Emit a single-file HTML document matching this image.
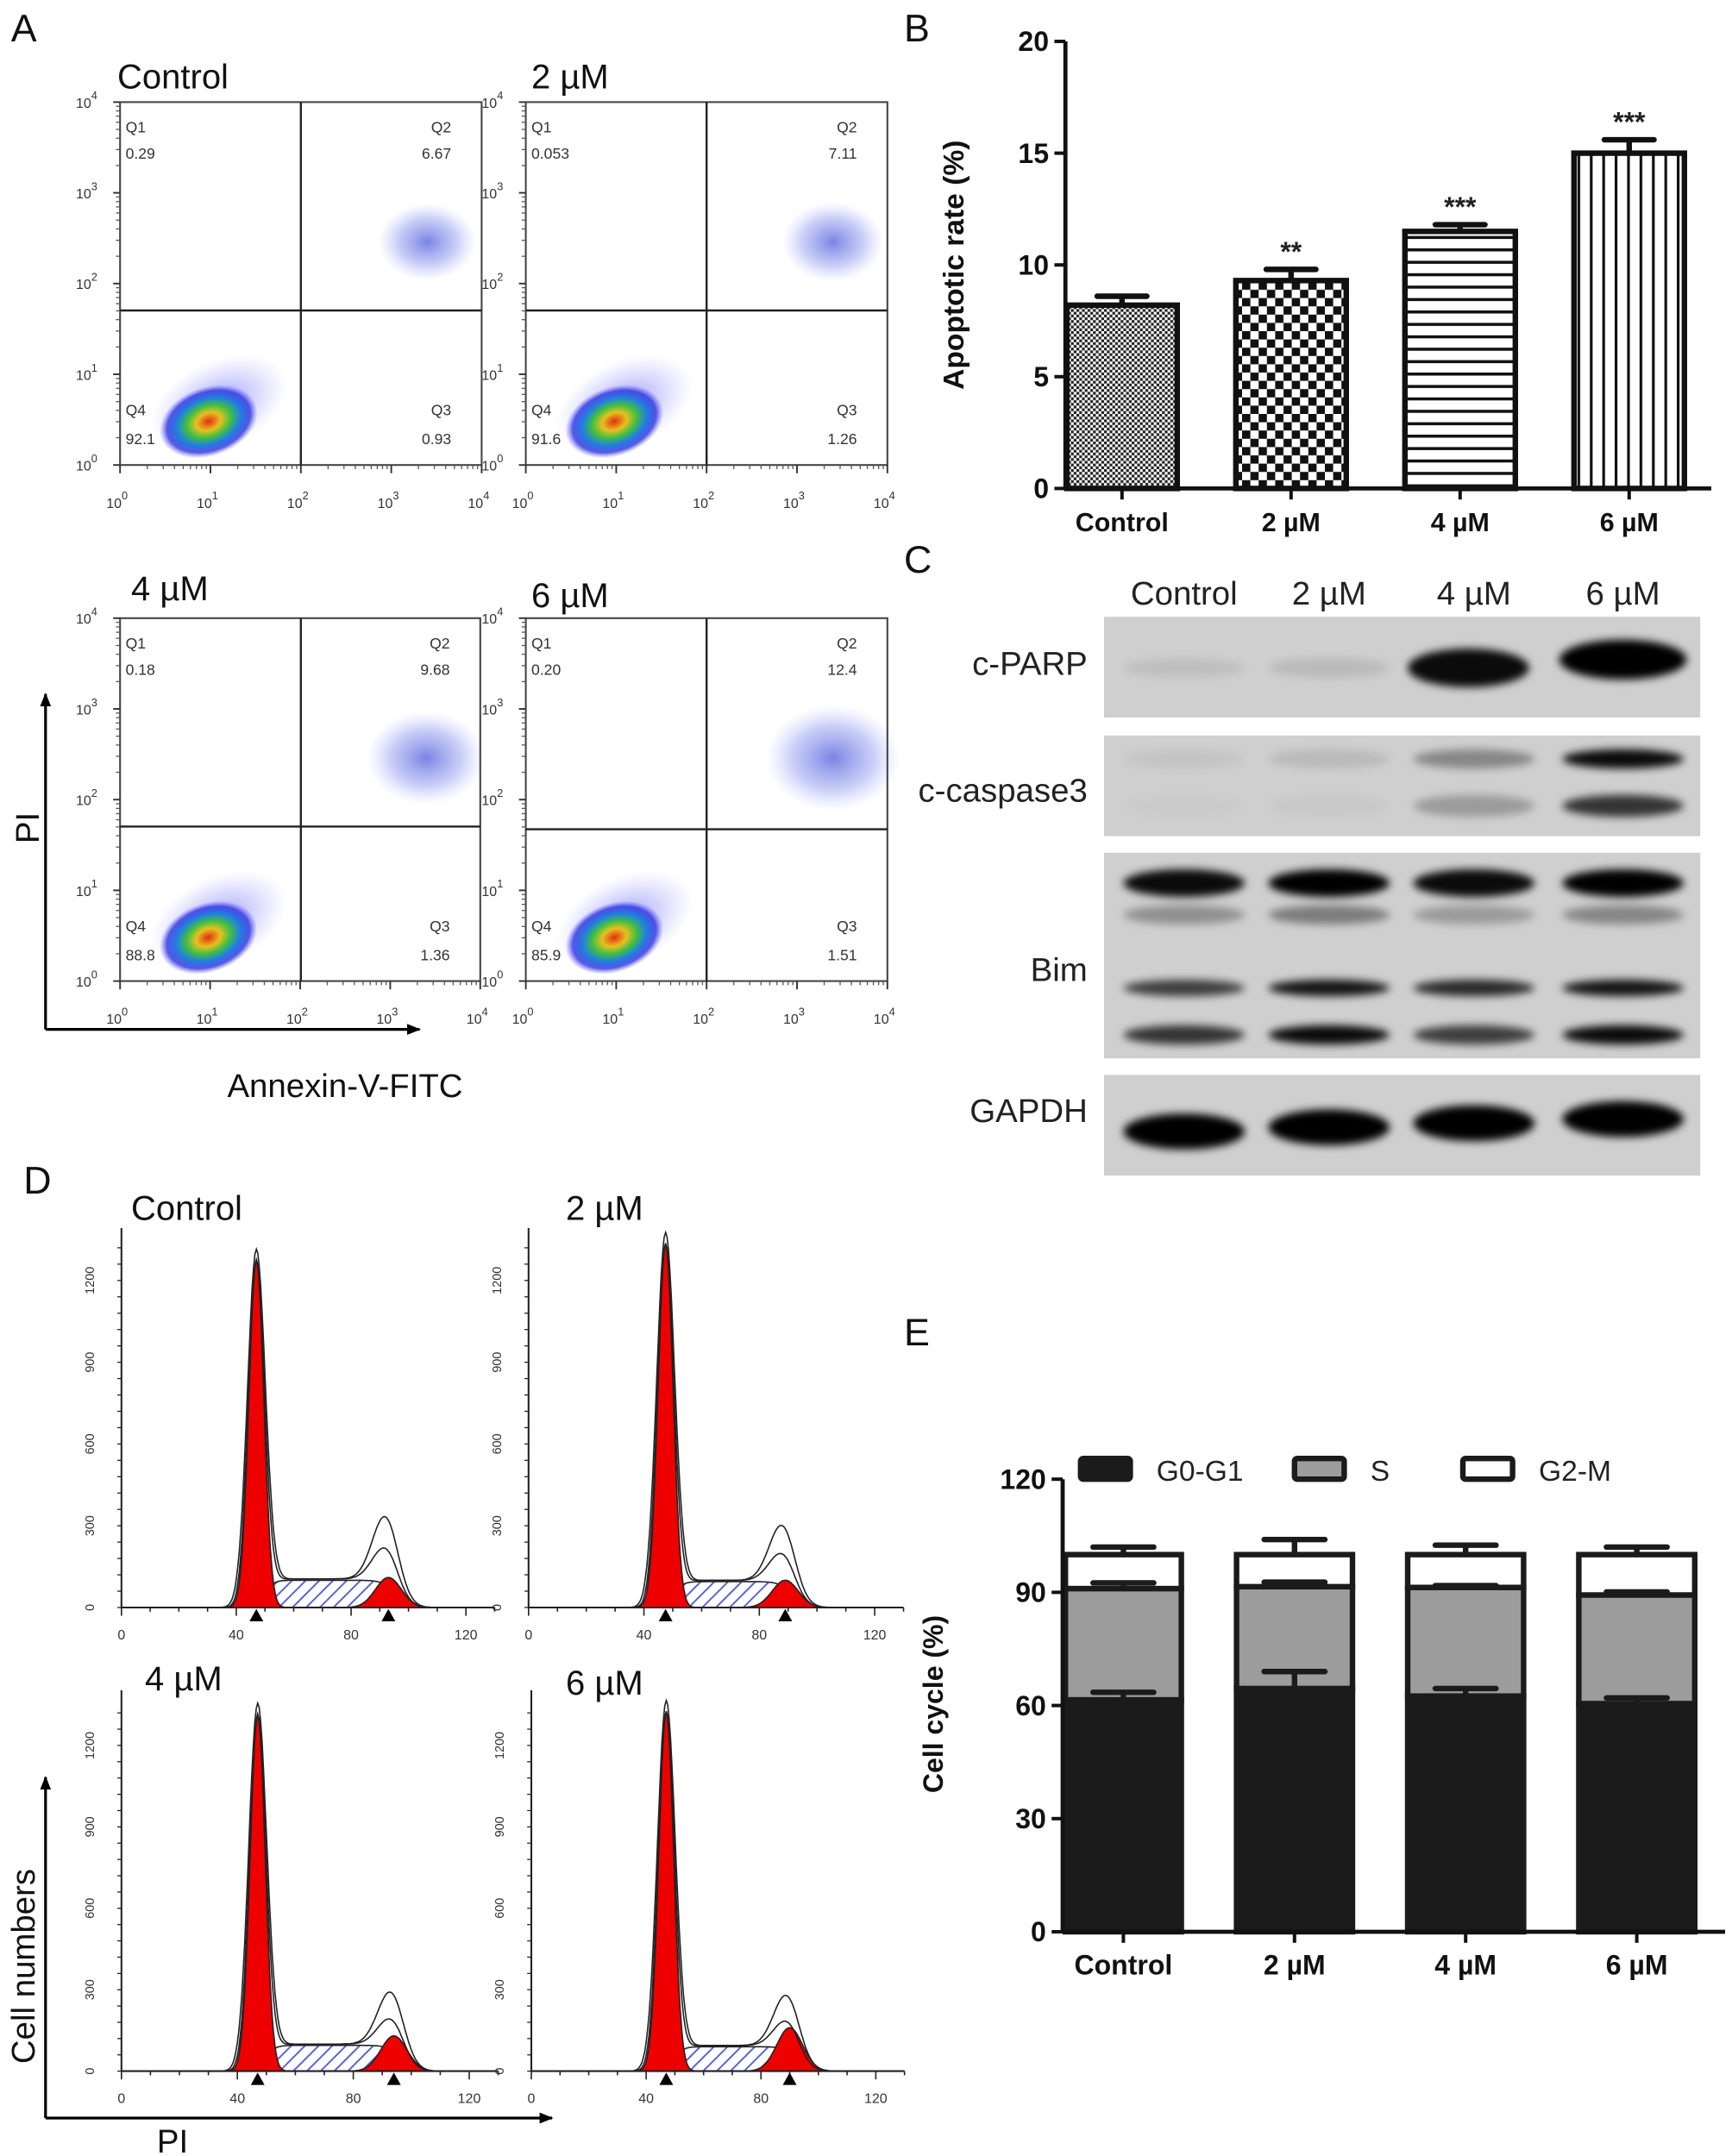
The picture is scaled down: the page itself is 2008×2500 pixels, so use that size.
<!DOCTYPE html>
<html><head><meta charset="utf-8">
<style>
html,body{margin:0;padding:0;background:#fff;}
svg{display:block;font-family:"Liberation Sans",sans-serif;}
</style></head>
<body>
<svg id="fig" xmlns="http://www.w3.org/2000/svg" width="2008" height="2500" viewBox="0 0 1255 1562.5">
<defs>
<pattern id="pCtrl" width="4" height="4" patternUnits="userSpaceOnUse"><rect width="4" height="4" fill="#fff"/><rect width="2" height="2" fill="#222"/><rect x="2" y="2" width="2" height="2" fill="#222"/></pattern>
<pattern id="p2" width="12" height="12" patternUnits="userSpaceOnUse"><rect width="12" height="12" fill="#fff"/><rect width="6" height="6" fill="#111"/><rect x="6" y="6" width="6" height="6" fill="#111"/></pattern>
<pattern id="p4" width="10" height="9" patternUnits="userSpaceOnUse"><rect width="10" height="9" fill="#fff"/><rect y="0" width="10" height="2.2" fill="#111"/></pattern>
<pattern id="p6" width="9" height="10" patternUnits="userSpaceOnUse"><rect width="9" height="10" fill="#fff"/><rect x="0" width="2" height="10" fill="#111"/></pattern>
<pattern id="hatch" width="7" height="7" patternUnits="userSpaceOnUse" patternTransform="rotate(45)"><rect width="7" height="7" fill="#fff"/><rect width="1.2" height="7" fill="#5560d8"/></pattern>
<radialGradient id="heat"><stop offset="0" stop-color="#e03010"/><stop offset="0.25" stop-color="#e8c020"/><stop offset="0.45" stop-color="#40c040"/><stop offset="0.65" stop-color="#2080e0"/><stop offset="0.85" stop-color="#3030e0" stop-opacity="0.8"/><stop offset="1" stop-color="#6060ff" stop-opacity="0"/></radialGradient>
<radialGradient id="halo"><stop offset="0" stop-color="#4040f0" stop-opacity="0.55"/><stop offset="1" stop-color="#8080ff" stop-opacity="0"/></radialGradient>
<radialGradient id="q2g"><stop offset="0" stop-color="#2030d0" stop-opacity="0.85"/><stop offset="0.6" stop-color="#4050e0" stop-opacity="0.4"/><stop offset="1" stop-color="#8090ff" stop-opacity="0"/></radialGradient>
<filter id="blur" x="-30%" y="-100%" width="160%" height="300%"><feGaussianBlur stdDeviation="3"/></filter>
<marker id="arr" markerUnits="userSpaceOnUse" markerWidth="10" markerHeight="10" refX="9" refY="5" orient="auto"><path d="M0,1 L10,5 L0,9 z" fill="#000"/></marker>
</defs>
</svg>
<script>
// ---------- data ----------
const groups = ["Control","2 µM","4 µM","6 µM"];
const apopValues = [8.2, 9.3, 11.5, 15.0];
const apopErr = [0.4, 0.5, 0.3, 0.6];
const apopStars = ["", "**", "***", "***"];
const apopTicks = [0,5,10,15,20];
const q1Vals = ["0.29","0.053","0.18","0.20"];
const q2Vals = ["6.67","7.11","9.68","12.4"];
const q3Vals = ["0.93","1.26","1.36","1.51"];
const q4Vals = ["92.1","91.6","88.8","85.9"];
const g01Values = [61.5, 64.5, 62.5, 60.5];
const sValues = [29.5, 27.0, 28.8, 28.8];
const g2mValues = [9.0, 8.5, 8.7, 10.7];
const g01Err = [2.0, 4.5, 2.0, 1.5];
const sErr = [1.5, 1.2, 0.5, 0.8];
const g2mErr = [2.0, 4.0, 2.5, 2.0];
const cycleTicks = [0,30,60,90,120];
const g1Pos = [47, 47.5, 47, 47];
const g1Height = [1270, 1330, 1310, 1320];
const g2Pos = [93, 89, 94, 90];
const g2Height = [110, 100, 130, 160];
const rawG2Height = [290, 260, 250, 240];
const sHeight = [100, 95, 95, 90];
const bandParp = [0.08, 0.1, 0.95, 1.0];
const bandCasA = [0.05, 0.1, 0.35, 0.95];
const bandCasB = [0.02, 0.03, 0.25, 0.75];
const bandBim1 = [0.95, 1.0, 0.95, 1.0];
const bandBim2 = [0.3, 0.4, 0.25, 0.35];
const bandBim3 = [0.7, 0.9, 0.8, 0.9];
const bandBim4 = [0.75, 0.95, 0.7, 0.95];
const bandGapdh = [1.0, 1.0, 1.0, 1.0];

const NS = "http://www.w3.org/2000/svg";
const svg = document.getElementById('fig');
function mk(tag, attrs, parent, txt){
  const e = document.createElementNS(NS, tag);
  for (const k in attrs) e.setAttribute(k, attrs[k]);
  if (txt !== undefined) e.textContent = txt;
  (parent || svg).appendChild(e);
  return e;
}
function grp(name){
  const g = mk('g', {});
  
  
  return g;
}
function label(p, x, y, t, size, opts){
  const a = Object.assign({x:x, y:y, 'font-size':size, fill:'#111'}, opts||{});
  const e = mk('text', a, p, t);
  
  
  return e;
}

// panel letters
const letters = grp('panel-letters');
[["A",8,30],["B",655,30],["C",655,415],["D",17,865],["E",655,975]].forEach(l=>{
  const e = label(letters, l[1], l[2], l[0], 28);
  
});

// ---------- Panel A: flow scatter ----------
const scatterBoxes = [
  {x0:87,x1:349,y0:74,y1:337,vx:218,hy:225,title:[85,64]},
  {x0:381,x1:643,y0:74,y1:337,vx:512,hy:225,title:[385,64]},
  {x0:87,x1:348,y0:448,y1:711,vx:218,hy:599,title:[95,435]},
  {x0:381,x1:643,y0:448,y1:711,vx:512,hy:601,title:[385,440]}
];
scatterBoxes.forEach((b,i)=>{
  const g = grp('annexin-scatter-'+i);
  label(g, b.title[0], b.title[1], groups[i], 25);
  const w=b.x1-b.x0, h=b.y1-b.y0;
  const cx = b.x0 + w*0.245, cy = b.y0 + h*0.88;
  let e = mk('ellipse',{cx:cx+12,cy:cy-8,rx:w*0.2,ry:h*0.12,fill:'url(#halo)',transform:`rotate(-25 ${cx} ${cy})`},g);
   
  e = mk('ellipse',{cx:cx,cy:cy,rx:w*0.14,ry:h*0.095,fill:'url(#heat)',transform:`rotate(-20 ${cx} ${cy})`},g);
   
  const q2x = b.x0 + w*0.88, q2y = b.y0 + h*0.37;
  const sc = parseFloat(q2Vals[i])/7;
  e = mk('ellipse',{cx:q2x-8,cy:q2y+4,rx:w*0.14*Math.sqrt(sc),ry:h*0.11*Math.sqrt(sc),fill:'url(#q2g)',opacity:0.7},g);
   
  mk('rect',{x:b.x0,y:b.y0,width:w,height:h,fill:'none',stroke:'#444','stroke-width':1.3},g);
  mk('line',{x1:b.vx,y1:b.y0,x2:b.vx,y2:b.y1,stroke:'#222','stroke-width':1.5},g);
  mk('line',{x1:b.x0,y1:b.hy,x2:b.x1,y2:b.hy,stroke:'#222','stroke-width':1.5},g);
  const f=11;
  label(g,b.x0+4,b.y0+22,'Q1',f,{fill:'#333'}); label(g,b.x0+4,b.y0+41,q1Vals[i],f,{fill:'#333'});
  label(g,b.x1-22,b.y0+22,'Q2',f,{fill:'#333','text-anchor':'end'}); label(g,b.x1-22,b.y0+41,q2Vals[i],f,{fill:'#333','text-anchor':'end'});
  label(g,b.x0+4,b.y1-36,'Q4',f,{fill:'#333'}); label(g,b.x0+4,b.y1-15,q4Vals[i],f,{fill:'#333'});
  label(g,b.x1-22,b.y1-36,'Q3',f,{fill:'#333','text-anchor':'end'}); label(g,b.x1-22,b.y1-15,q3Vals[i],f,{fill:'#333','text-anchor':'end'});
  for(let d=0; d<=4; d++){
    const x = b.x0 + w*d/4;
    mk('line',{x1:x,y1:b.y1,x2:x,y2:b.y1+6,stroke:'#333','stroke-width':1.2},g);
    for(let m=2;m<10 && d<4;m++){const xm=x+w/4*Math.log10(m); mk('line',{x1:xm,y1:b.y1,x2:xm,y2:b.y1+3,stroke:'#555','stroke-width':0.8},g);}
    const t = label(g, x-10, b.y1+31, '10', 10, {fill:'#333'});
    mk('tspan',{dy:-6,'font-size':8},t,String(d));
    const y = b.y1 - h*d/4;
    mk('line',{x1:b.x0-5,y1:y,x2:b.x0,y2:y,stroke:'#333','stroke-width':1.2},g);
    for(let m=2;m<10 && d<4;m++){const ym=y-h/4*Math.log10(m); mk('line',{x1:b.x0-3,y1:ym,x2:b.x0,y2:ym,stroke:'#555','stroke-width':0.8},g);}
    const ty = label(g, b.x0-32, y+4, '10', 10, {fill:'#333'});
    mk('tspan',{dy:-6,'font-size':8},ty,String(d));
  }
});
const axA = grp('annexin-axis-arrows');
mk('line',{x1:33,y1:746,x2:33,y2:503,stroke:'#000','stroke-width':2,'marker-end':'url(#arr)'},axA);
mk('line',{x1:33,y1:746,x2:304,y2:746,stroke:'#000','stroke-width':2,'marker-end':'url(#arr)'},axA);
label(axA, 28, 600, 'PI', 24, {transform:'rotate(-90 28 600)','text-anchor':'middle'});
label(axA, 250, 795, 'Annexin-V-FITC', 24, {'text-anchor':'middle'});

// ---------- Panel B: bar chart ----------
const B = {x0:772, x1:1240, y0:354, yTop:30, max:20};
const byv = v => B.y0 - (B.y0-B.yTop)*v/B.max;
const bxc = i => 813 + i*122.5;
const pats = ['url(#pCtrl)','url(#p2)','url(#p4)','url(#p6)'];
const gB = grp('apoptosis-bar-chart');
apopValues.forEach((v,i)=>{
  const xc=bxc(i), bw=80;
  const er = mk('path',{d:`M${xc},${byv(v)} V${byv(v+apopErr[i])} M${xc-18},${byv(v+apopErr[i])} H${xc+18}`,stroke:'#111','stroke-width':4,fill:'none','stroke-linecap':'round'},gB);
   
  const r = mk('rect',{x:xc-bw/2,y:byv(v),width:bw,height:B.y0-byv(v),fill:pats[i],stroke:'#111','stroke-width':4},gB);
   
  if(apopStars[i]) label(gB, xc, byv(v+apopErr[i])-6, apopStars[i], 20, {'text-anchor':'middle','font-weight':'bold',fill:'#222'});
  mk('line',{x1:xc,y1:B.y0,x2:xc,y2:B.y0+8,stroke:'#111','stroke-width':2.5},gB);
  label(gB, xc, B.y0+31, groups[i], 19, {'text-anchor':'middle','font-weight':'bold'});
});
mk('line',{x1:B.x0,y1:B.yTop,x2:B.x0,y2:B.y0,stroke:'#111','stroke-width':3},gB);
mk('line',{x1:B.x0,y1:B.y0,x2:B.x1,y2:B.y0,stroke:'#111','stroke-width':3},gB);
apopTicks.forEach(t=>{
  mk('line',{x1:B.x0-8,y1:byv(t),x2:B.x0,y2:byv(t),stroke:'#111','stroke-width':2.5},gB);
  label(gB, B.x0-12, byv(t)+7, String(t), 20, {'text-anchor':'end','font-weight':'bold'});
});
label(gB, 698, 192, 'Apoptotic rate (%)', 21, {'text-anchor':'middle','font-weight':'bold',transform:'rotate(-90 698 192)'});

// ---------- Panel C: western blot ----------
const gC = grp('western-blot');
const laneX = [858, 963, 1068, 1176];
groups.forEach((gname,i)=>label(gC, laneX[i], 438, gname, 24, {'text-anchor':'middle',fill:'#222'}));
const strips = [
  {name:'c-PARP',y0:447,y1:520,ly:489,bands:[[bandParp,484,9,1.6]]},
  {name:'c-caspase3',y0:533,y1:606,ly:581,bands:[[bandCasA,550,7,1],[bandCasB,584,8,1]]},
  {name:'Bim',y0:618,y1:767,ly:711,bands:[[bandBim1,640,10,1.4],[bandBim2,663,7,1],[bandBim3,716,6,1],[bandBim4,750,7,1]]},
  {name:'GAPDH',y0:779,y1:852,ly:813,bands:[[bandGapdh,820,13,1.5]]}
];
strips.forEach(s=>{
  const r = mk('rect',{x:800,y:s.y0,width:432,height:s.y1-s.y0,fill:'#cfcfcf'},gC);
   
  label(gC, 788, s.ly, s.name, 24, {'text-anchor':'end',fill:'#222'});
  s.bands.forEach(bd=>{
    bd[0].forEach((a,i)=>{
      const rx = 44*(s.name==='c-PARP' && i===3 ? 1.05 : 1);
      const ry = bd[2]*(s.name==='c-PARP' ? (0.7+a*0.9) : 1);
      const el = mk('ellipse',{cx:laneX[i]+(s.name==='c-PARP'&&i===2?-4:0),cy:bd[1]-(s.name==='c-PARP'&&i===3?6:0)-(s.name==='GAPDH'?(i*3):0),rx:rx,ry:ry,fill:'#000','fill-opacity':Math.min(1,a),filter:'url(#blur)'},gC);
       
    });
  });
});

// ---------- Panel D: histograms ----------
const hist = [
  {ax:88, x0:88, xs:2.08, y0:1165, ys:0.1975, title:[95,884], yTop:890},
  {ax:383, x0:383, xs:2.09, y0:1165, ys:0.1975, title:[410,884], yTop:890},
  {ax:88, x0:88, xs:2.1, y0:1501, ys:0.1967, title:[105,1225], yTop:1225},
  {ax:385, x0:385, xs:2.08, y0:1501, ys:0.1967, title:[410,1228], yTop:1225}
];
const gauss = (x,m,s)=>Math.exp(-(x-m)*(x-m)/(2*s*s));
hist.forEach((h,i)=>{
  const g = grp('cell-cycle-histogram-'+i);
  const X = v=>h.x0+v*h.xs, Y = c=>h.y0-c*h.ys;
  label(g, h.title[0], h.title[1], groups[i], 25);
  const g1=g1Pos[i], g2=g2Pos[i];
  let d='M'+X(g1)+','+Y(0);
  for(let v=g1; v<=g2+6; v+=0.5){
    const c = sHeight[i]*(1/(1+Math.exp(-(v-g1-3)/1.5)))*(1/(1+Math.exp((v-g2-2)/2)));
    d+=' L'+X(v).toFixed(1)+','+Y(c).toFixed(1);
  }
  d+=' L'+X(g2+6)+','+Y(0)+' Z';
  let e = mk('path',{d:d,fill:'url(#hatch)',stroke:'#222','stroke-width':1},g);
   
  const peak=(m,hgt,s)=>{let p='M'+X(m-4*s)+','+Y(0); for(let v=m-4*s; v<=m+4*s; v+=0.25) p+=' L'+X(v).toFixed(1)+','+Y(hgt*gauss(v,m,s)).toFixed(1); return p+' Z';};
  e = mk('path',{d:peak(g1,g1Height[i],2.6),fill:'#ee0000',stroke:'#222','stroke-width':1},g);
   
  e = mk('path',{d:peak(g2,g2Height[i],4.5),fill:'#ee0000',stroke:'#222','stroke-width':1},g);
   
  [1.0, 0.6].forEach((k,j)=>{
    let p='';
    for(let v=35; v<=110; v+=0.5){
      const c = (g1Height[i]*(1+0.03*(1-j)))*gauss(v,g1,2.8+0.3*(1-j)) + sHeight[i]*(1/(1+Math.exp(-(v-g1-4)/1.5)))*(1/(1+Math.exp((v-g2-3)/2)))*1.05 + (rawG2Height[i]*k - sHeight[i]*0.5)*gauss(v,g2-1,4.5);
      p += (p?' L':'M')+X(v).toFixed(1)+','+Y(Math.max(0,c)).toFixed(1);
    }
    const o = mk('path',{d:p,fill:'none',stroke:'#222','stroke-width':1},g);
     
  });
  mk('line',{x1:h.ax,y1:h.yTop,x2:h.ax,y2:h.y0,stroke:'#222','stroke-width':1.3},g);
  mk('line',{x1:h.ax,y1:h.y0,x2:X(130),y2:h.y0,stroke:'#222','stroke-width':1.3},g);
  for(let v=0; v<=130; v+=10) mk('line',{x1:X(v),y1:h.y0,x2:X(v),y2:h.y0+(v%40===0?6:3),stroke:'#222','stroke-width':1},g);
  [0,40,80,120].forEach(v=>label(g, X(v), h.y0+23, String(v), 10, {'text-anchor':'middle',fill:'#333'}));
  for(let c=0; c<=1350; c+=60) mk('line',{x1:h.ax-3,y1:Y(c),x2:h.ax,y2:Y(c),stroke:'#222','stroke-width':0.8},g);
  [0,300,600,900,1200].forEach(c=>label(g, h.ax-20, Y(c), String(c), 9, {'text-anchor':'middle',fill:'#333',transform:`rotate(-90 ${h.ax-20} ${Y(c)})`}));
  [g1,g2].forEach(v=>mk('path',{d:`M${X(v)},${h.y0+1} l-5,9 h10 z`,fill:'#000'},g));
});
const axD = grp('histogram-axis-arrows');
mk('line',{x1:33,y1:1535,x2:33,y2:1288,stroke:'#000','stroke-width':2,'marker-end':'url(#arr)'},axD);
mk('line',{x1:33,y1:1535,x2:400,y2:1535,stroke:'#000','stroke-width':2,'marker-end':'url(#arr)'},axD);
label(axD, 25, 1425, 'Cell numbers', 24, {'text-anchor':'middle',transform:'rotate(-90 25 1425)'});
label(axD, 125, 1560, 'PI', 24, {'text-anchor':'middle'});

// ---------- Panel E: stacked bars ----------
const E = {x0:770, x1:1250, y0:1400, yTop:1072, max:120};
const eyv = v => E.y0 - (E.y0-E.yTop)*v/E.max;
const exc = i => 814 + i*124;
const gE = grp('cell-cycle-stacked-bars');
g01Values.forEach((v,i)=>{
  const xc=exc(i), bw=84;
  const s1 = v, s2 = v+sValues[i], s3 = s2+g2mValues[i];
  const segs = [[0,s1,'#1b1b1b','g0-g1'],[s1,s2,'#9c9c9c','s'],[s2,s3,'#ffffff','g2-m']];
  const errs = [g01Err[i], sErr[i], g2mErr[i]];
  segs.forEach((sg,k)=>{
    const r = mk('rect',{x:xc-bw/2,y:eyv(sg[1]),width:bw,height:eyv(sg[0])-eyv(sg[1]),fill:sg[2],stroke:'#1b1b1b','stroke-width':4},gE);
     
  });
  segs.forEach((sg,k)=>{
    const top=sg[1], eh=top+errs[k];
    const er = mk('path',{d:`M${xc},${eyv(top)} V${eyv(eh)} M${xc-22},${eyv(eh)} H${xc+22}`,stroke:'#1b1b1b','stroke-width':4,fill:'none','stroke-linecap':'round'},gE);
     
  });
  mk('line',{x1:xc,y1:E.y0,x2:xc,y2:E.y0+8,stroke:'#111','stroke-width':2.5},gE);
  label(gE, xc, E.y0+31, groups[i], 20, {'text-anchor':'middle','font-weight':'bold'});
});
mk('line',{x1:E.x0,y1:E.yTop,x2:E.x0,y2:E.y0,stroke:'#111','stroke-width':3},gE);
mk('line',{x1:E.x0,y1:E.y0,x2:E.x1,y2:E.y0,stroke:'#111','stroke-width':3},gE);
cycleTicks.forEach(t=>{
  mk('line',{x1:E.x0-8,y1:eyv(t),x2:E.x0,y2:eyv(t),stroke:'#111','stroke-width':2.5},gE);
  label(gE, E.x0-12, eyv(t)+7, String(t), 20, {'text-anchor':'end','font-weight':'bold'});
});
label(gE, 683, 1235, 'Cell cycle (%)', 20, {'text-anchor':'middle','font-weight':'bold',transform:'rotate(-90 683 1235)'});
const legend = grp('legend');
[[783,'#1b1b1b','G0-G1',838],[938,'#9c9c9c','S',993],[1060,'#fff','G2-M',1115]].forEach(l=>{
  const r = mk('rect',{x:l[0],y:1057,width:36,height:15,rx:2,fill:l[1],stroke:'#1b1b1b','stroke-width':4},legend);
   
  label(legend, l[3], 1073, l[2], 21, {fill:'#222'});
});
</script>
</body></html>
